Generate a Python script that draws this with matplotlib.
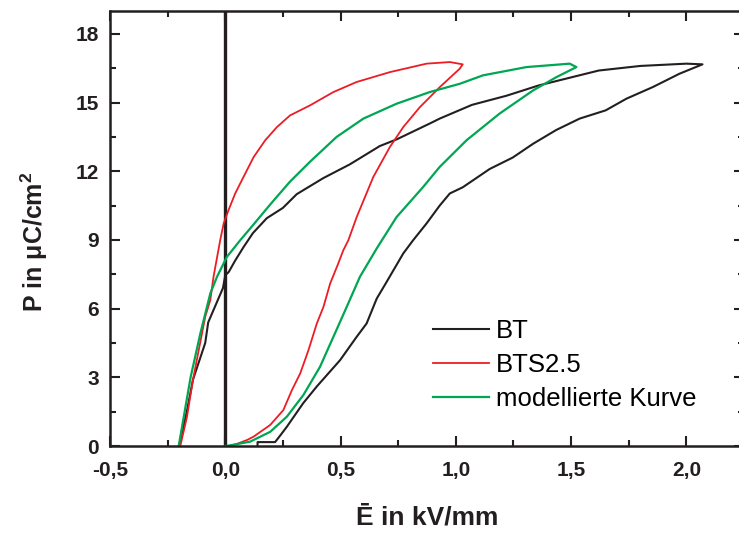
import matplotlib
matplotlib.use("Agg")
import matplotlib.pyplot as plt
from matplotlib.ticker import MultipleLocator, FuncFormatter

plt.rcParams["font.family"] = ["Liberation Sans", "DejaVu Sans"]
plt.rcParams["mathtext.fontset"] = "custom"
plt.rcParams["mathtext.rm"] = "Liberation Sans:bold"
plt.rcParams["mathtext.bf"] = "Liberation Sans:bold"

# BT: rising branch -> tip -> falling branch
bt_x = [0.14, 0.14, 0.216, 0.24, 0.267, 0.338, 0.397, 0.498, 0.57, 0.613, 0.657, 0.70,
        0.772, 0.815, 0.873, 0.93, 0.974, 1.03, 1.147, 1.247, 1.335, 1.435, 1.537,
        1.65, 1.74, 1.855, 1.97, 2.07,
        2.0, 1.80, 1.62, 1.48, 1.36, 1.22, 1.07, 0.93, 0.89, 0.745, 0.67, 0.54,
        0.425, 0.31, 0.25, 0.18, 0.12, 0.08, 0.043, 0.015, 0.0, -0.01, -0.074, -0.087,
        -0.14, -0.165, -0.2]
bt_y = [0.0, 0.17, 0.17, 0.48, 0.84, 1.87, 2.6, 3.75, 4.77, 5.35, 6.44, 7.17,
        8.41, 8.99, 9.72, 10.5, 11.03, 11.3, 12.1, 12.6, 13.2, 13.8, 14.3,
        14.66, 15.17, 15.68, 16.26, 16.67,
        16.7, 16.6, 16.4, 16.05, 15.75, 15.3, 14.9, 14.3, 14.1, 13.4, 13.1, 12.3,
        11.7, 11.0, 10.4, 9.95, 9.3, 8.7, 8.1, 7.6, 7.46, 6.9, 5.4, 4.5,
        2.9, 1.6, 0.0]

# BTS2.5
bts_x = [0.02, 0.05, 0.094, 0.123, 0.195, 0.252, 0.289, 0.325, 0.361, 0.397, 0.426,
         0.455, 0.49, 0.512, 0.534, 0.57, 0.642, 0.714, 0.772, 0.844, 0.931,
         1.017, 1.03,
         0.974, 0.873, 0.714, 0.57, 0.469, 0.368, 0.281, 0.224, 0.173, 0.123,
         0.079, 0.043, 0.014, -0.007, -0.022, -0.051, -0.065, -0.087, -0.115,
         -0.14, -0.166, -0.195]
bts_y = [0.0, 0.09, 0.26, 0.41, 0.92, 1.57, 2.44, 3.17, 4.19, 5.35, 6.08,
         7.1, 7.97, 8.55, 8.99, 10.0, 11.75, 13.06, 13.93, 14.8, 15.68,
         16.48, 16.67,
         16.77, 16.7, 16.33, 15.9, 15.46, 14.88, 14.44, 13.93, 13.35, 12.62,
         11.75, 11.03, 10.3, 9.72, 8.99, 7.39, 6.37, 5.64, 4.19,
         2.9, 1.28, 0.0]

# modelled curve
mod_x = [0.0, 0.022, 0.108, 0.195, 0.267, 0.339, 0.411, 0.469, 0.527, 0.584,
         0.657, 0.743, 0.858, 0.93, 1.046, 1.19, 1.335, 1.436, 1.523,
         1.494, 1.306, 1.118, 1.017, 0.887, 0.743, 0.599, 0.483, 0.368, 0.281,
         0.195, 0.152, 0.108, 0.065, 0.007, -0.036, -0.065, -0.108, -0.15,
         -0.202]
mod_y = [0.0, 0.03, 0.19, 0.62, 1.28, 2.23, 3.46, 4.77, 6.08, 7.39,
         8.63, 10.0, 11.31, 12.19, 13.35, 14.52, 15.53, 16.11, 16.55,
         16.7, 16.55, 16.19, 15.82, 15.46, 14.95, 14.3, 13.5, 12.42, 11.55,
         10.55, 10.03, 9.5, 8.99, 8.26, 7.39, 6.66, 4.92, 3.02,
         0.0]

fig = plt.figure(figsize=(7.39, 5.33), dpi=100)
ax = fig.add_axes([110 / 739, 1 - 446 / 533, 634 / 739, 435 / 533])

ax.plot(bt_x, bt_y, color="#231f20", lw=1.5, label="BT")
ax.plot(bts_x, bts_y, color="#ed1c24", lw=1.3, label="BTS2.5")
ax.plot(mod_x, mod_y, color="#00a651", lw=1.6, label="modellierte Kurve")
ax.axvline(0, color="#231f20", lw=2.4, zorder=1)

ax.set_xlim(-0.5, 2.25)
ax.set_ylim(0, 19)
ax.xaxis.set_major_locator(MultipleLocator(0.5))
ax.xaxis.set_minor_locator(MultipleLocator(0.25))
ax.yaxis.set_major_locator(MultipleLocator(3))
ax.yaxis.set_minor_locator(MultipleLocator(1.5))
ax.xaxis.set_major_formatter(FuncFormatter(lambda v, p: f"{v:.1f}".replace(".", ",")))
ax.yaxis.set_major_formatter(FuncFormatter(lambda v, p: f"{v:.0f}"))

for s in ax.spines.values():
    s.set_linewidth(1.8)
    s.set_color("#231f20")
ax.tick_params(which="both", direction="in", top=True, right=True,
               width=1.5, color="#231f20")
ax.tick_params(which="major", length=7.5, labelsize=15)
ax.tick_params(which="minor", length=4)
ax.tick_params(axis="x", pad=11)
ax.tick_params(axis="y", pad=8)
for lab in ax.get_xticklabels() + ax.get_yticklabels():
    lab.set_fontweight("bold")
    lab.set_color("#231f20")

ax.set_xlabel("Ē in kV/mm", fontsize=19, fontweight="bold", color="#231f20", labelpad=18)
ax.set_ylabel("P in μC/cm$^{2}$", fontsize=18, fontweight="bold", color="#231f20")
ax.yaxis.set_label_coords(-0.095, 0.47)

ax.legend(loc="center left", bbox_to_anchor=(0.509, 0.186), frameon=False, fontsize=18.5,
          handlelength=2.2, handletextpad=0.27, labelspacing=0.38, borderaxespad=0,
          borderpad=0)

fig.savefig("out.png", dpi=100)
